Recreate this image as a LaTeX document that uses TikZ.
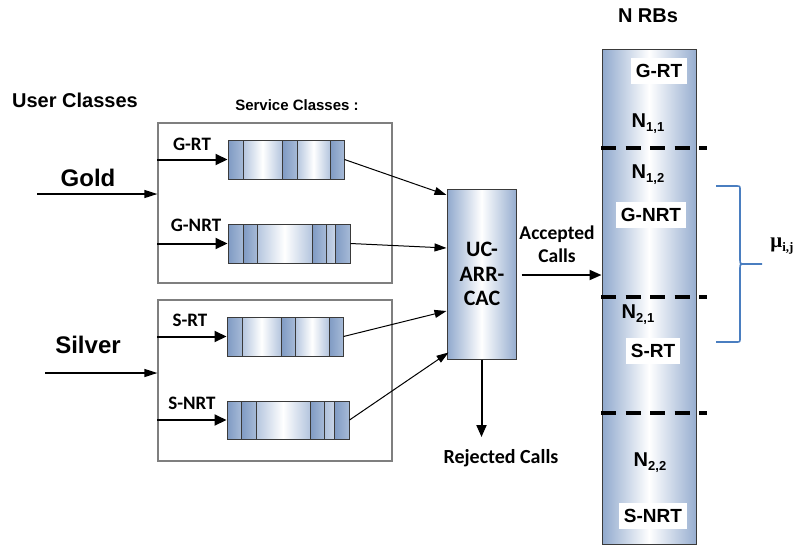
\documentclass[tikz,border=0pt]{standalone}
\usepackage{fontspec}
\usetikzlibrary{arrows.meta}
\newfontfamily\arialf{Liberation Sans}
\newfontfamily\calf{Carlito}
\newfontfamily\timesf{Liberation Serif}
\definecolor{qdA}{HTML}{7F9AC3}
\definecolor{qdB}{HTML}{A6BAD7}
\definecolor{qlA}{HTML}{B4C5DE}
\definecolor{qmA}{HTML}{AEC0DA}
\definecolor{qmB}{HTML}{C8D4E7}
\definecolor{qline}{HTML}{3A3A3A}
\definecolor{boxline}{HTML}{7F7F7F}
\definecolor{colA}{HTML}{90A9CD}
\definecolor{colB}{HTML}{97AED0}
\definecolor{bracec}{HTML}{4A7EC0}
\begin{document}
\begin{tikzpicture}[x=1pt,y=-1pt,
  qd/.style={left color=qdA, right color=qdB, draw=qline, line width=0.9pt},
  ql/.style={left color=qlA, right color=qlA, middle color=white, draw=qline, line width=0.9pt},
  qm/.style={left color=qmA, right color=qmB, draw=qline, line width=0.9pt},
  qbox/.style={draw=qline, line width=1pt, inner sep=0pt},
  grpbox/.style={draw=boxline, line width=1.2pt, inner sep=0pt},
  inarrow/.style={line width=2pt, -{Triangle[length=12pt,width=11pt]}},
  toarrow/.style={line width=1pt, -{Triangle[length=12pt,width=8pt]}},
  userarrow/.style={line width=1.2pt, -{Triangle[length=13pt,width=8pt]}},
  bigarrow/.style={line width=2pt, -{Triangle[length=12pt,width=10pt]}},
  arl/.style={font=\arialf\bfseries\fontsize{#1}{#1}\selectfont, inner sep=1pt},
  cal/.style={font=\calf\bfseries\fontsize{#1}{#1}\selectfont, inner sep=1pt},
  rblab/.style={fill=white, font=\arialf\bfseries\fontsize{19}{19}\selectfont, inner xsep=5pt, inner ysep=6pt},
  nlab/.style={font=\arialf\bfseries\fontsize{20}{20}\selectfont, inner sep=1pt},
  dashline/.style={line width=3.2pt, dash pattern=on 15pt off 9.5pt},
  shadebox/.style={left color=colA, right color=colB, middle color=white, draw=qline, line width=1pt, inner sep=0pt}
]
\useasboundingbox (0,0) rectangle (798,547);

% group boxes
\node[grpbox, minimum width=234pt, minimum height=160pt] (gbox) at (275,203) {};
\node[grpbox, minimum width=234pt, minimum height=161pt] (sbox) at (275,380.5) {};

% left labels
\node[arl=20] (uc) at (75,100) {User Classes};
\node[arl=24] (gold) at (88,178) {Gold};
\node[arl=24] (silver) at (88,345) {Silver};
\node[arl=15] (sc) at (297,105) {Service Classes :};

\coordinate (gstart) at (37,194);
\coordinate (sstart) at (45,373);
\draw[userarrow] (gstart) -- (gbox.west |- gstart);
\draw[userarrow] (sstart) -- (sbox.west |- sstart);

% queues
\foreach \a/\b/\s in {228/243/qd, 243/282/ql, 282/297/qd, 297/330/ql, 330/344/qd}
  {\path[\s] (\a,140) rectangle (\b,179);}
\node[qbox, minimum width=116pt, minimum height=39pt] (q1) at (286,159.5) {};
\foreach \a/\b/\s in {228/243/qd, 243/257/qd, 257/312/ql, 312/326/qd, 326/335/qm, 335/350/qd}
  {\path[\s] (\a,224) rectangle (\b,263);}
\node[qbox, minimum width=122pt, minimum height=39pt] (q2) at (289,243.5) {};
\foreach \a/\b/\s in {227/242/qd, 242/281/ql, 281/295/qd, 295/329/ql, 329/343/qd}
  {\path[\s] (\a,317) rectangle (\b,356);}
\node[qbox, minimum width=116pt, minimum height=39pt] (q3) at (285,336.5) {};
\foreach \a/\b/\s in {227/241/qd, 241/256/qd, 256/310/ql, 310/324/qd, 324/334/qm, 334/349/qd}
  {\path[\s] (\a,401) rectangle (\b,439);}
\node[qbox, minimum width=122pt, minimum height=38pt] (q4) at (288,420) {};

% queue labels
\node[cal=19] (lgrt) at (192,144) {G-RT};
\node[cal=19] (lgnrt) at (196,225) {G-NRT};
\node[cal=19] (lsrt) at (190,320) {S-RT};
\node[cal=19] (lsnrt) at (192,403) {S-NRT};

\draw[inarrow] (gbox.west |- q1.west) -- (q1.west);
\draw[inarrow] (gbox.west |- q2.west) -- (q2.west);
\draw[inarrow] (sbox.west |- q3.west) -- (q3.west);
\draw[inarrow] (sbox.west |- q4.west) -- (q4.west);

% CAC
\node[shadebox, minimum width=69pt, minimum height=170pt] (cac) at (481.5,274) {};
\node[font=\calf\bfseries\fontsize{22}{24.5}\selectfont, align=center] (cactxt) at (482,274) {UC-\\ARR-\\CAC};

\draw[toarrow] (q1.east) -- ([yshift=79pt]cac.west);
\draw[toarrow] (q2.east) -- ([yshift=26pt]cac.west);
\draw[toarrow] (q3.east) -- ([yshift=-37pt]cac.west);
\draw[toarrow] (q4.east) -- ([xshift=2pt,yshift=7pt]cac.south west);

% RB column
\node[shadebox, minimum width=94pt, minimum height=495pt] (rb) at (649,296.5) {};
\node[arl=20] (nrbs) at (648,16) {N RBs};

\node[font=\calf\bfseries\fontsize{19.5}{23}\selectfont, align=center, inner sep=1pt] (acc) at (557,244) {Accepted\\Calls};
\coordinate (accstart) at ([xshift=5pt,yshift=-1pt]cac.east);
\draw[bigarrow] (accstart) -- (rb.west |- accstart);

\node[cal=20] (rej) at (501,458) {Rejected Calls};
\coordinate (rejend) at (481.5,437);
\draw[bigarrow] (cac.south) -- (rejend);

% dashed separators
\draw[dashline] (601,148) -- (707,148);
\draw[dashline] (601,297) -- (707,297);
\draw[dashline] (601,413) -- (707,413);

% RB labels
\node[rblab] (rgrt) at (659,71) {G-RT};
\node[nlab] (n11) at (648,124) {N\raisebox{-4pt}{\fontsize{13}{13}\selectfont 1,1}};
\node[nlab] (n12) at (648,175) {N\raisebox{-4pt}{\fontsize{13}{13}\selectfont 1,2}};
\node[rblab] (rgnrt) at (651,215) {G-NRT};
\node[nlab] (n21) at (638,315) {N\raisebox{-4pt}{\fontsize{13}{13}\selectfont 2,1}};
\node[rblab] (rsrt) at (653,351) {S-RT};
\node[nlab] (n22) at (650,463) {N\raisebox{-4pt}{\fontsize{13}{13}\selectfont 2,2}};
\node[rblab] (rsnrt) at (653,516) {S-NRT};

% brace
\draw[bracec, line width=1.6pt]
  (716,186) -- (736,186) .. controls (740,186) .. (740,190) -- (740,259)
  .. controls (740,264) .. (745,264) -- (762,264);
\draw[bracec, line width=1.6pt]
  (745,264) .. controls (740,264) .. (740,269) -- (740,338)
  .. controls (740,342) .. (736,342) -- (716,342);
\node[font=\timesf\bfseries\fontsize{21}{21}\selectfont, inner sep=0pt] (mu) at (782,246) {μ\raisebox{-4pt}{\fontsize{13}{13}\selectfont i,j}};
\end{tikzpicture}
\end{document}
